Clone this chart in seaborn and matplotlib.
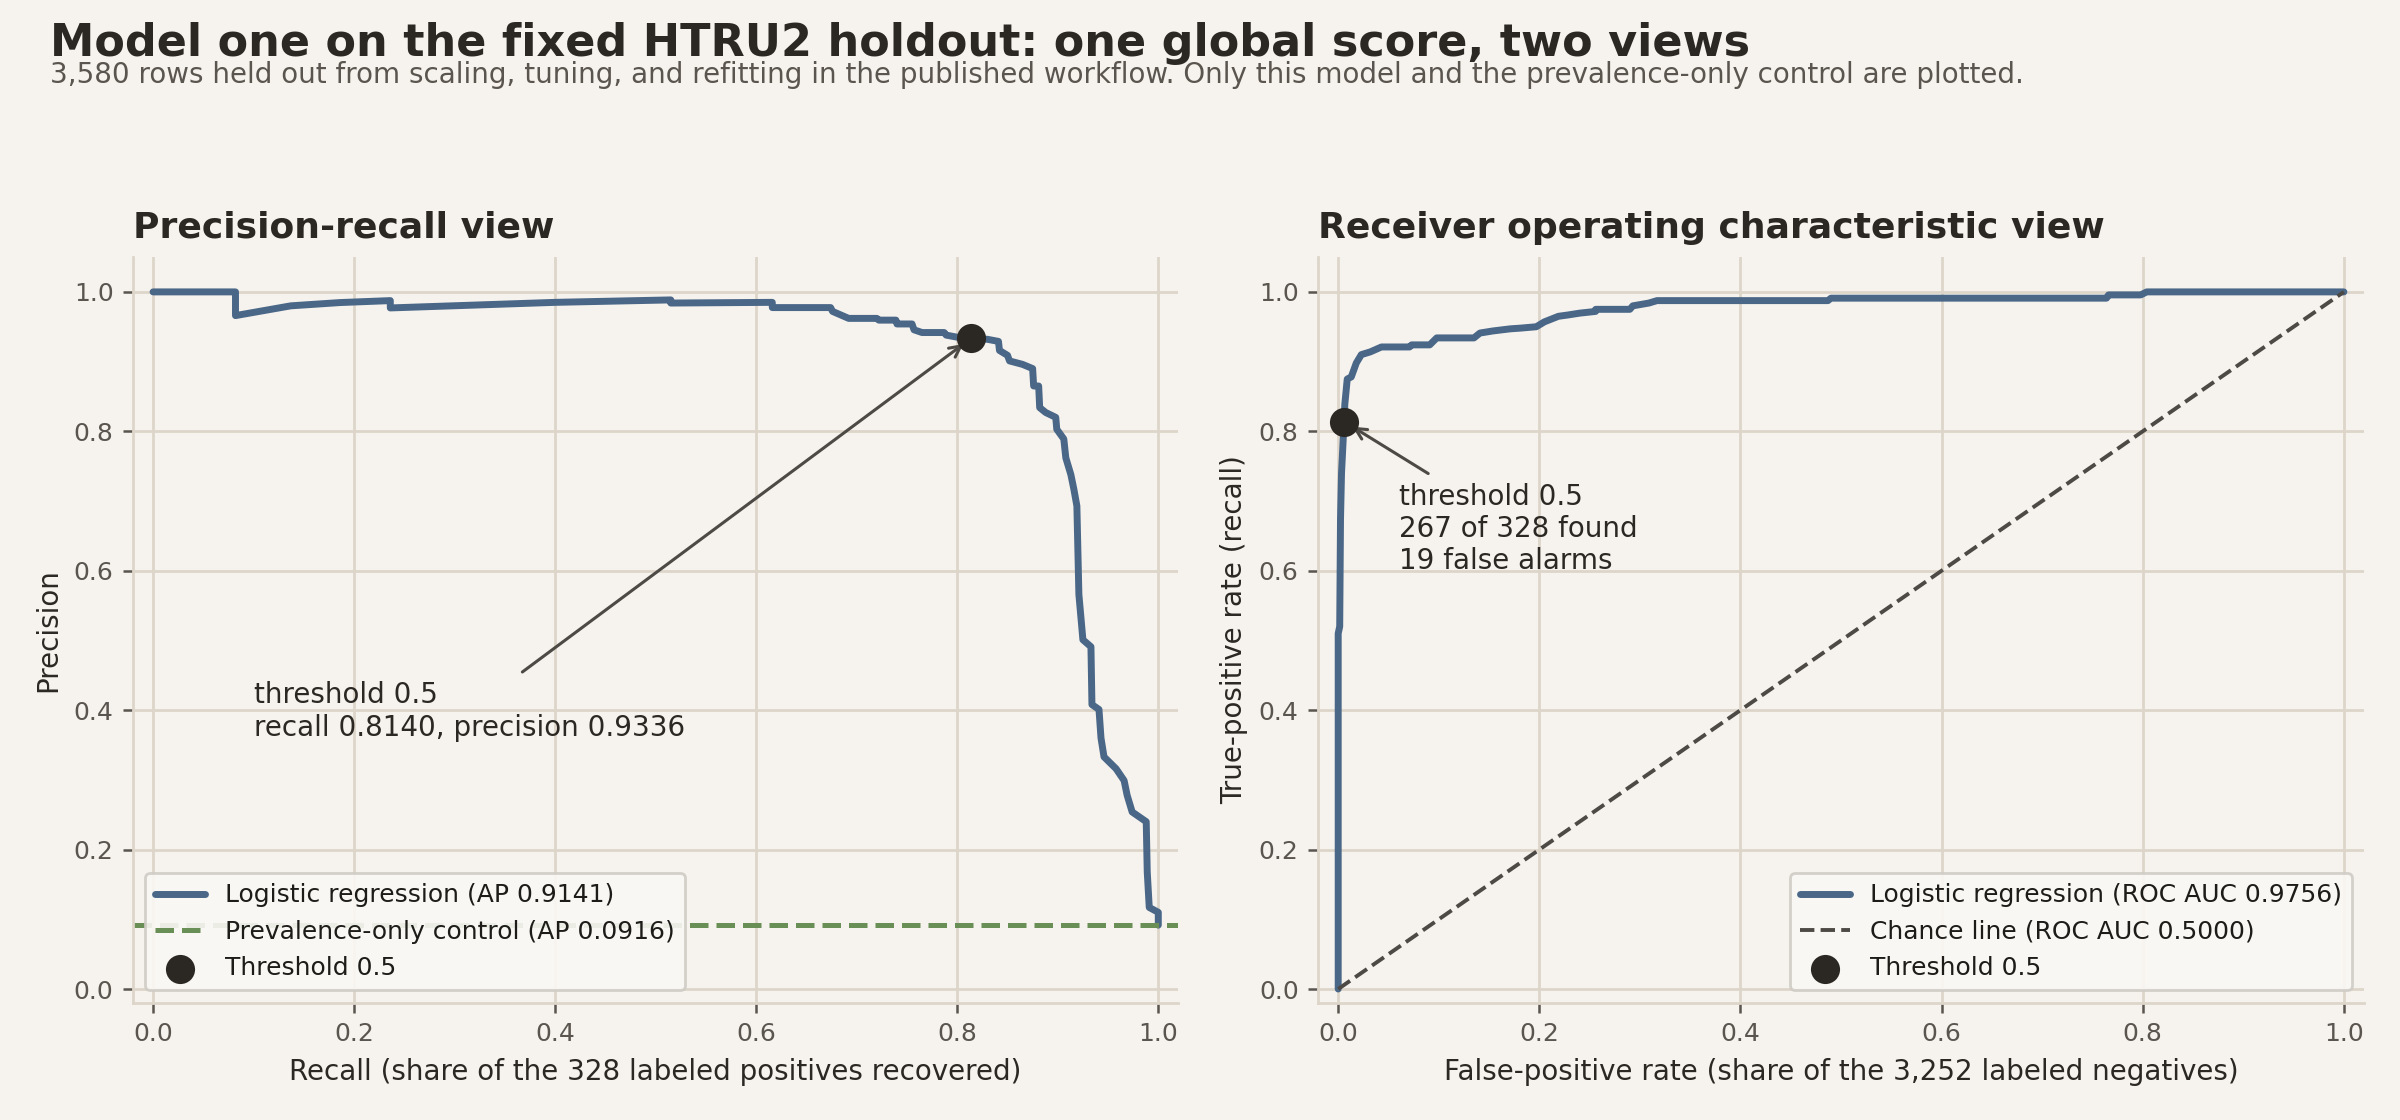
import matplotlib
matplotlib.use("Agg")
import matplotlib.pyplot as plt
import seaborn as sns
import pandas as pd

# ---------------- data ----------------
pr_recall = [0.0, 0.082, 0.082, 0.137, 0.186, 0.236, 0.236, 0.40, 0.515, 0.515,
             0.616, 0.616, 0.674, 0.676, 0.684, 0.692, 0.720, 0.722, 0.739, 0.740,
             0.755, 0.757, 0.765, 0.787, 0.789, 0.800, 0.814, 0.830, 0.841, 0.842,
             0.850, 0.852, 0.865, 0.875, 0.876, 0.881, 0.882, 0.888, 0.898, 0.899,
             0.906, 0.908, 0.913, 0.916, 0.919, 0.921, 0.925, 0.933, 0.934, 0.941,
             0.943, 0.946, 0.958, 0.966, 0.969, 0.974, 0.988, 0.989, 0.991, 1.000,
             1.000]
pr_precision = [1.0, 1.0, 0.966, 0.980, 0.9847, 0.9875, 0.977, 0.985, 0.9885, 0.984,
                0.985, 0.9775, 0.9775, 0.972, 0.967, 0.962, 0.962, 0.9595, 0.9595, 0.954,
                0.954, 0.9456, 0.9417, 0.9417, 0.938, 0.935, 0.9336, 0.932, 0.929, 0.916,
                0.909, 0.901, 0.896, 0.890, 0.865, 0.865, 0.834, 0.827, 0.820, 0.803,
                0.789, 0.762, 0.738, 0.717, 0.693, 0.566, 0.501, 0.491, 0.408, 0.401,
                0.360, 0.333, 0.316, 0.299, 0.278, 0.254, 0.240, 0.168, 0.117, 0.110,
                0.0916]

roc_fpr = [0.0, 0.0, 0.0015, 0.0023, 0.0033, 0.005, 0.0058, 0.0066, 0.009, 0.013,
           0.018, 0.023, 0.032, 0.043, 0.071, 0.073, 0.091, 0.098, 0.135, 0.141,
           0.154, 0.171, 0.181, 0.197, 0.205, 0.219, 0.229, 0.240, 0.256, 0.256,
           0.290, 0.293, 0.309, 0.317, 0.487, 0.490, 0.764, 0.766, 0.798, 0.804,
           1.0]
roc_tpr = [0.0, 0.51, 0.52, 0.674, 0.740, 0.789, 0.814, 0.839, 0.875, 0.878,
           0.898, 0.910, 0.914, 0.921, 0.921, 0.924, 0.924, 0.934, 0.934, 0.941,
           0.944, 0.947, 0.948, 0.950, 0.957, 0.965, 0.967, 0.9695, 0.972, 0.975,
           0.975, 0.980, 0.984, 0.9875, 0.9875, 0.991, 0.991, 0.9957, 0.9957, 1.0,
           1.0]

chance_x = [0.0, 1.0]
chance_y = [0.0, 1.0]

prevalence = 0.0916
thr_recall = 0.8140
thr_precision = 0.9336
thr_fpr = 0.00584

ap_model = 0.9141
ap_control = 0.0916
auc_model = 0.9756
auc_chance = 0.5000

title = "Model one on the fixed HTRU2 holdout: one global score, two views"
subtitle = ("3,580 rows held out from scaling, tuning, and refitting in the published workflow. "
            "Only this model and the prevalence-only control are plotted.")

# ---------------- style ----------------
BG = "#f6f3ee"
GRID = "#ddd5ca"
INK = "#2b2823"
MUTED = "#5a554e"
BLUE = "#4a6788"
GREEN = "#6a8f56"
CHANCE = "#4d4a46"

sns.set_theme(style="whitegrid")
plt.rcParams.update({
    "font.family": ["DejaVu Sans"],
    "figure.facecolor": BG,
    "axes.facecolor": BG,
    "axes.edgecolor": GRID,
    "axes.linewidth": 1.0,
    "grid.color": GRID,
    "grid.linewidth": 1.0,
    "xtick.color": MUTED,
    "ytick.color": MUTED,
    "xtick.labelcolor": MUTED,
    "ytick.labelcolor": MUTED,
    "xtick.labelsize": 9,
    "ytick.labelsize": 9,
    "xtick.bottom": True,
    "ytick.left": True,
    "xtick.major.size": 3.5,
    "ytick.major.size": 3.5,
    "xtick.major.width": 0.9,
    "ytick.major.width": 0.9,
    "axes.labelcolor": INK,
    "axes.labelsize": 10,
    "text.color": INK,
})

fig = plt.figure(figsize=(12, 5.6), dpi=200)
ax1 = fig.add_axes([0.0554, 0.1045, 0.4356, 0.666])
ax2 = fig.add_axes([0.5492, 0.1045, 0.4358, 0.666])

fig.text(0.021, 0.950, title, fontsize=16, fontweight="bold", color=INK, ha="left", va="baseline")
fig.text(0.021, 0.926, subtitle, fontsize=10, color=MUTED, ha="left", va="baseline")

# ---------------- PR panel ----------------
pr_df = pd.DataFrame({"recall": pr_recall, "precision": pr_precision})
sns.lineplot(data=pr_df, x="recall", y="precision", sort=False, estimator=None,
             color=BLUE, linewidth=2.5, ax=ax1,
             label=f"Logistic regression (AP {ap_model:.4f})")
ax1.axhline(prevalence, color=GREEN, linestyle="--", linewidth=1.8,
            label=f"Prevalence-only control (AP {ap_control:.4f})", zorder=2)
sns.scatterplot(x=[thr_recall], y=[thr_precision], s=110, color=INK, edgecolor=INK,
                linewidth=0, ax=ax1, zorder=5, label="Threshold 0.5")
ax1.annotate("threshold 0.5\nrecall 0.8140, precision 0.9336",
             xy=(thr_recall, thr_precision), xytext=(0.10, 0.398),
             ha="left", va="center", fontsize=10, color=INK,
             arrowprops=dict(arrowstyle="->", color=CHANCE, lw=1.1, shrinkB=3.5))

ax1.set_xlim(-0.02, 1.02)
ax1.set_ylim(-0.02, 1.05)
ax1.set_xlabel("Recall (share of the 328 labeled positives recovered)")
ax1.set_ylabel("Precision")
ax1.set_title("Precision-recall view", loc="left", fontsize=13, fontweight="bold",
              color=INK, pad=7)

# ---------------- ROC panel ----------------
roc_df = pd.DataFrame({"fpr": roc_fpr, "tpr": roc_tpr})
sns.lineplot(data=roc_df, x="fpr", y="tpr", sort=False, estimator=None,
             color=BLUE, linewidth=2.5, ax=ax2,
             label=f"Logistic regression (ROC AUC {auc_model:.4f})")
sns.lineplot(x=chance_x, y=chance_y, color=CHANCE, linestyle="--", linewidth=1.4,
             ax=ax2, label=f"Chance line (ROC AUC {auc_chance:.4f})")
sns.scatterplot(x=[thr_fpr], y=[thr_recall], s=110, color=INK, edgecolor=INK,
                linewidth=0, ax=ax2, zorder=5, label="Threshold 0.5")
ax2.annotate("threshold 0.5\n267 of 328 found\n19 false alarms",
             xy=(thr_fpr, thr_recall), xytext=(0.060, 0.66),
             ha="left", va="center", fontsize=10, color=INK,
             arrowprops=dict(arrowstyle="->", color=CHANCE, lw=1.1, shrinkB=3.5))

ax2.set_xlim(-0.02, 1.02)
ax2.set_ylim(-0.02, 1.05)
ax2.set_xlabel("False-positive rate (share of the 3,252 labeled negatives)")
ax2.set_ylabel("True-positive rate (recall)")
ax2.set_title("Receiver operating characteristic view", loc="left", fontsize=13,
              fontweight="bold", color=INK, pad=7)

for ax, loc in ((ax1, "lower left"), (ax2, "lower right")):
    ticks = [0.0, 0.2, 0.4, 0.6, 0.8, 1.0]
    ax.set_xticks(ticks)
    ax.set_yticks(ticks)
    ax.set_xticklabels([f"{t:.1f}" for t in ticks])
    ax.set_yticklabels([f"{t:.1f}" for t in ticks])
    ax.grid(True, color=GRID, linewidth=1.0)
    ax.set_axisbelow(True)
    for side in ("top", "right"):
        ax.spines[side].set_visible(False)
    for side in ("left", "bottom"):
        ax.spines[side].set_color(GRID)
    leg = ax.legend(loc=loc, fontsize=9, frameon=True, facecolor="#faf8f4",
                    edgecolor="#cfcbc5", framealpha=0.9, markerscale=1.0)
    for t in leg.get_texts():
        t.set_color("#1e1c19")

fig.savefig("out.png", dpi=200, facecolor=BG)
